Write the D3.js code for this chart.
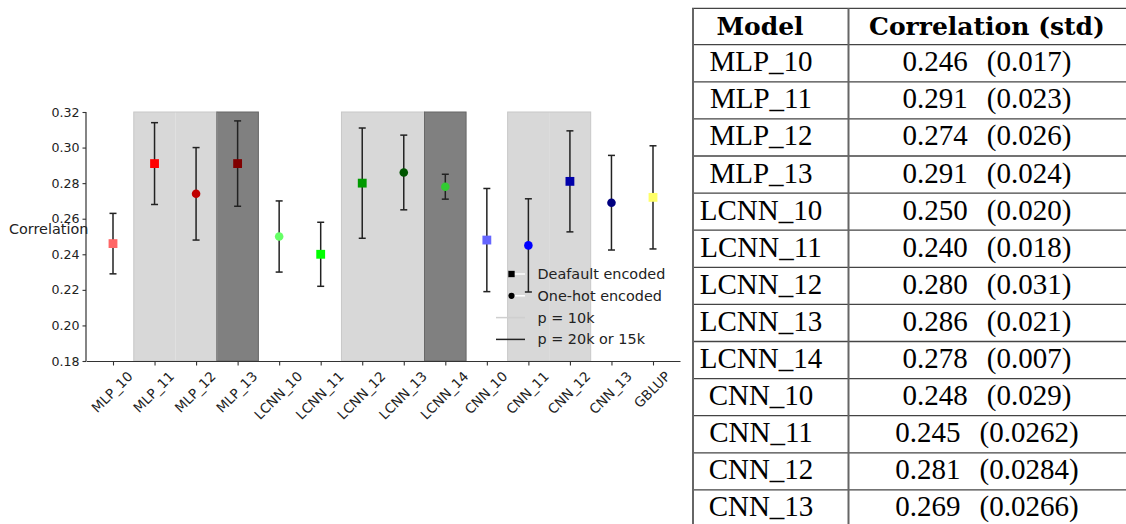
<!DOCTYPE html>
<html>
<head>
<meta charset="utf-8">
<script src="https://cdn.jsdelivr.net/npm/d3@7"></script>
<style>
  body { margin: 0; background: #fff; }
  svg { display: block; }
</style>
</head>
<body>
<svg width="1126" height="524"></svg>
<script>
// Model results (GBLUP only appears in the plot)
var models = ["MLP_10", "MLP_11", "MLP_12", "MLP_13", "LCNN_10", "LCNN_11", "LCNN_12",
              "LCNN_13", "LCNN_14", "CNN_10", "CNN_11", "CNN_12", "CNN_13", "GBLUP"];
var corr = [0.246, 0.291, 0.274, 0.291, 0.250, 0.240, 0.280, 0.286, 0.278, 0.248, 0.245, 0.281, 0.269, 0.272];
var std = [0.017, 0.023, 0.026, 0.024, 0.020, 0.018, 0.031, 0.021, 0.007, 0.029, 0.0262, 0.0284, 0.0266, 0.029];
var stdLabels = ["0.017", "0.023", "0.026", "0.024", "0.020", "0.018", "0.031", "0.021", "0.007",
                 "0.029", "0.0262", "0.0284", "0.0266"];
// s = default encoded (square), c = one-hot encoded (circle)
var encoding = ["s", "s", "c", "s", "c", "s", "s", "c", "c", "s", "c", "s", "c", "s"];
// number of SNPs: "10k" light band, "20k" dark band, "" none
var pGroup = ["", "10k", "10k", "20k", "", "", "10k", "10k", "20k", "", "10k", "10k", "", ""];
var colors = ["#ff6666", "#ff0000", "#c00000", "#800000", "#66ff66", "#00ff00", "#009a00",
              "#005500", "#33cc33", "#6666ff", "#0000ff", "#0000aa", "#000080", "#ffff66"];
var yTicks = [0.18, 0.20, 0.22, 0.24, 0.26, 0.28, 0.30, 0.32];

var svg = d3.select("svg");

// Plot
var x = d3.scaleLinear().domain([-0.65, 13.65]).range([86, 680]);
var y = d3.scaleLinear().domain([0.18, 0.32]).range([361, 112]);
var plot = svg.append("g");

// p bands
plot.selectAll("rect.band")
    .data(models.map(function(m, i) { return {i: i, p: pGroup[i]}; }).filter(function(d) { return d.p; }))
    .enter()
    .append("rect")
    .attr("class", "band")
    .attr("x", function(d) { return x(d.i - 0.5); })
    .attr("width", function(d) { return x(d.i + 0.5) - x(d.i - 0.5); })
    .attr("y", y(0.32))
    .attr("height", y(0.18) - y(0.32))
    .attr("fill", function(d) { return d.p === "10k" ? "#d8d8d8" : "#808080"; });
// faint band edges
[[0.5, 2.5], [2.5, 3.5], [5.5, 7.5], [7.5, 8.5], [9.5, 11.5]].forEach(function(b, k) {
    var dark = (k === 1 || k === 3);
    plot.append("rect")
        .attr("x", x(b[0])).attr("width", x(b[1]) - x(b[0]))
        .attr("y", y(0.32)).attr("height", y(0.18) - y(0.32))
        .attr("fill", "none")
        .attr("stroke", dark ? "#666" : "#c8c8c8")
        .attr("stroke-width", 1);
});

// axes
var yAxis = d3.axisLeft(y).tickValues(yTicks).tickFormat(d3.format(".2f")).tickSize(3.5).tickPadding(3);
var gy = plot.append("g").attr("transform", "translate(86,0)").call(yAxis);
var xAxis = d3.axisBottom(x).tickValues(d3.range(models.length)).tickFormat(function() { return ""; })
    .tickSize(4.5).tickSizeOuter(0);
var gx = plot.append("g").attr("transform", "translate(0,361)").call(xAxis);
gx.selectAll(".tick text").remove();
gy.select(".domain").attr("d", "M0," + y(0.32) + "V" + y(0.18));
[gx, gy].forEach(function(g) {
    g.select(".domain").attr("stroke", "#333").attr("stroke-width", 1.2);
    g.selectAll(".tick line").attr("stroke", "#333").attr("stroke-width", 1.1);
    g.selectAll("text").attr("fill", "#222").style("font-family", "DejaVu Sans").style("font-size", "12.6px");
});

// rotated x labels, bounding box centred under each tick
var xfs = 13.5;
svg.append("g").attr("class", "xlabels")
    .selectAll("text")
    .data(d3.range(models.length))
    .enter()
    .append("text")
    .attr("text-anchor", "end")
    .attr("fill", "#222")
    .style("font-family", "DejaVu Sans")
    .style("font-size", xfs + "px")
    .text(function(i) { return models[i]; })
    .attr("transform", function(i) {
        var L = this.getComputedTextLength();
        var a = xfs * 0.76, dsc = xfs * 0.24;
        var px = x(i) + (L + a - dsc) / (2 * Math.SQRT2);
        var py = 361 + 9 + a / Math.SQRT2;
        return "translate(" + px.toFixed(2) + "," + py.toFixed(2) + ") rotate(-45)";
    });

svg.append("text")
    .attr("x", 9).attr("y", 234)
    .style("font-family", "DejaVu Sans").style("font-size", "14.4px").attr("fill", "#222")
    .text("Correlation");

// error bars
var eb = plot.selectAll("g.eb")
    .data(models.map(function(m, i) { return {i: i, v: corr[i], e: std[i], enc: encoding[i], c: colors[i]}; }))
    .enter().append("g").attr("class", "eb");
eb.append("line")
    .attr("x1", function(d) { return x(d.i); }).attr("x2", function(d) { return x(d.i); })
    .attr("y1", function(d) { return y(d.v - d.e); }).attr("y2", function(d) { return y(d.v + d.e); })
    .attr("stroke", "#222").attr("stroke-width", 1.5);
[-1, 1].forEach(function(s) {
    eb.append("line")
        .attr("x1", function(d) { return x(d.i) - 3.5; }).attr("x2", function(d) { return x(d.i) + 3.5; })
        .attr("y1", function(d) { return y(d.v + s * d.e); }).attr("y2", function(d) { return y(d.v + s * d.e); })
        .attr("stroke", "#222").attr("stroke-width", 1.5);
});
var sym = d3.symbol().type(function(d) { return d.enc === "s" ? d3.symbolSquare : d3.symbolCircle; })
    .size(function(d) { return d.enc === "s" ? 78 : 58; });
eb.append("path")
    .attr("transform", function(d) { return "translate(" + x(d.i) + "," + y(d.v) + ")"; })
    .attr("d", sym)
    .attr("fill", function(d) { return d.c; });

// legend
var legendItems = [
    {label: "Deafault encoded", kind: "s"},
    {label: "One-hot encoded", kind: "c"},
    {label: "p = 10k", kind: "light"},
    {label: "p = 20k or 15k", kind: "dark"}
];
var lg = svg.append("g").selectAll("g").data(legendItems).enter().append("g")
    .attr("transform", function(d, k) { return "translate(0," + (274 + k * 21.8) + ")"; });
lg.each(function(d) {
    var g = d3.select(this);
    if (d.kind === "s" || d.kind === "c") {
        g.append("line").attr("x1", 514).attr("x2", 525).attr("stroke", "#fff").attr("stroke-width", 1.5);
        g.append("path").attr("transform", "translate(511.5,0)")
            .attr("d", d3.symbol().type(d.kind === "s" ? d3.symbolSquare : d3.symbolCircle).size(d.kind === "s" ? 40 : 30)())
            .attr("fill", "#000");
    } else {
        g.append("line").attr("x1", 496).attr("x2", 525)
            .attr("stroke", d.kind === "light" ? "#cfcfcf" : "#222").attr("stroke-width", 1.5);
    }
    g.append("text").attr("x", 537.5).attr("y", 5)
        .style("font-family", "DejaVu Sans").style("font-size", "14.4px").attr("fill", "#222")
        .text(d.label);
});

// Table
var tbl = svg.append("g");
var rowTop = 44.7, rowH = 37.1, headTop = 8.3;
var nRows = stdLabels.length;
var hLines = [headTop].concat(d3.range(nRows).map(function(k) { return rowTop + k * rowH; }));
tbl.selectAll("line.h").data(hLines).enter().append("line")
    .attr("x1", 692).attr("x2", 1126)
    .attr("y1", function(d) { return d; }).attr("y2", function(d) { return d; })
    .attr("stroke", "#444").attr("stroke-width", 1.3);
[693, 848.5].forEach(function(vx) {
    tbl.append("line").attr("x1", vx).attr("x2", vx).attr("y1", headTop).attr("y2", 524)
        .attr("stroke", "#666").attr("stroke-width", 2);
});
tbl.append("text").attr("x", 760).attr("y", 35).attr("text-anchor", "middle")
    .style("font-family", "DejaVu Serif").style("font-weight", "bold").style("font-size", "25px")
    .text("Model");
tbl.append("text").attr("x", 987).attr("y", 35).attr("text-anchor", "middle")
    .style("font-family", "DejaVu Serif").style("font-weight", "bold").style("font-size", "25px")
    .text("Correlation (std)");
var rows = tbl.selectAll("g.row").data(d3.range(nRows)).enter().append("g")
    .attr("transform", function(k) { return "translate(0," + (rowTop + k * rowH + 26.5) + ")"; });
rows.append("text").attr("x", 761).attr("text-anchor", "middle")
    .style("font-family", "Liberation Serif").style("font-size", "29px")
    .text(function(k) { return models[k]; });
var cell = rows.append("text").attr("x", 987).attr("text-anchor", "middle")
    .style("font-family", "Liberation Serif").style("font-size", "29px");
cell.append("tspan").text(function(k) { return d3.format(".3f")(corr[k]); });
cell.append("tspan").attr("dx", 19).text(function(k) { return "(" + stdLabels[k] + ")"; });
</script>
</body>
</html>
